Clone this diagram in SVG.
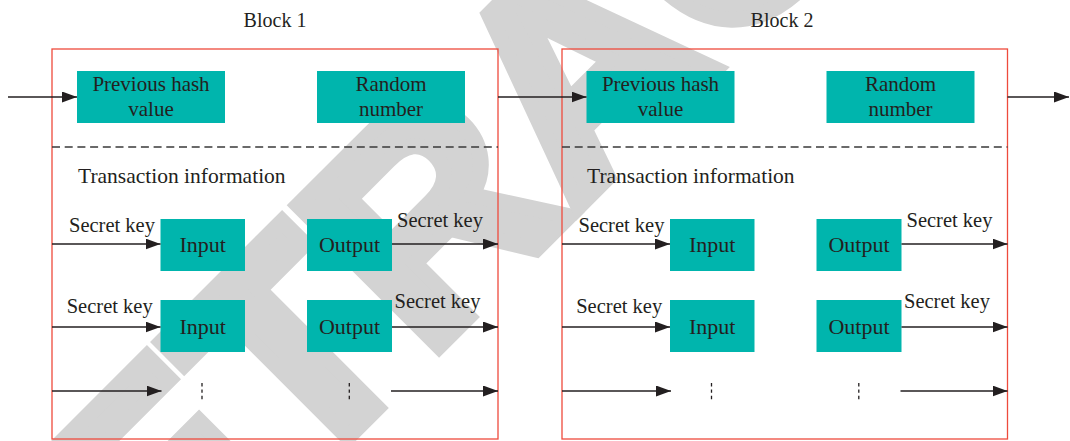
<svg xmlns="http://www.w3.org/2000/svg" width="1070" height="441" viewBox="0 0 1070 441">
  <style>
    .bg { fill: #ffffff; }
    .wm { font-family: "Liberation Sans", Arial, sans-serif; font-weight: bold; font-size: 290px; fill: #d3d3d3; stroke: #d3d3d3; stroke-width: 16; stroke-linejoin: miter; }
    .frame { fill: none; stroke: #ee4b3c; stroke-width: 1.3; }
    .sep { fill: none; stroke: #3a3a3a; stroke-width: 1.3; stroke-dasharray: 8 4.7; }
    .box { fill: #00b5ad; }
    .t { font-family: "Liberation Serif", "Times New Roman", serif; fill: #231f20; }
    .lbl { font-size: 20px; }
    .bx { font-size: 21px; text-anchor: middle; }
    .io { font-size: 22px; text-anchor: middle; }
    .sk { font-size: 20.5px; text-anchor: middle; }
    .ti { font-size: 21.5px; }
    .conn { fill: none; stroke: #231f20; stroke-width: 1.6; marker-end: url(#arrow); }
    .dots { fill: none; stroke: #231f20; stroke-width: 1.3; stroke-dasharray: 3.4 3; }
  </style>
  <defs>
    <marker id="arrow" markerUnits="userSpaceOnUse" markerWidth="15" markerHeight="11" refX="15" refY="5.5" orient="auto">
      <path d="M0,0 L15,5.5 L0,11 z" fill="#231f20"/>
    </marker>
  </defs>

  <rect class="bg" x="0" y="0" width="1070" height="441"/>

  <!-- diagonal stamp behind the diagram -->
  <g id="stamp">
    <text class="wm" x="647.5" y="138" text-anchor="middle" transform="rotate(-45 647.5 138)">RETRACTED</text>
  </g>

  <!-- Block 1 -->
  <g id="block1">
    <rect class="frame" x="52" y="49" width="446" height="390"/>
    <line class="sep" x1="52" y1="147" x2="498" y2="147"/>
    <text class="t lbl" x="275" y="27" text-anchor="middle">Block 1</text>
    <text class="t ti" x="78" y="183">Transaction information</text>
  </g>
  <g id="b1-prev-hash">
    <rect class="box" x="77" y="71" width="148" height="52"/>
    <text class="t bx" x="151" y="91">Previous hash</text>
    <text class="t bx" x="151" y="116">value</text>
  </g>
  <g id="b1-random">
    <rect class="box" x="317" y="71" width="148" height="52"/>
    <text class="t bx" x="391" y="91">Random</text>
    <text class="t bx" x="391" y="116">number</text>
  </g>
  <g id="b1-input1">
    <rect class="box" x="160.5" y="219" width="84.5" height="52"/>
    <text class="t io" x="202.7" y="252">Input</text>
  </g>
  <g id="b1-output1">
    <rect class="box" x="307" y="219" width="85" height="52"/>
    <text class="t io" x="349.5" y="252">Output</text>
  </g>
  <g id="b1-input2">
    <rect class="box" x="160.5" y="300" width="84.5" height="52"/>
    <text class="t io" x="202.7" y="333.5">Input</text>
  </g>
  <g id="b1-output2">
    <rect class="box" x="307" y="300" width="85" height="52"/>
    <text class="t io" x="349.5" y="333.5">Output</text>
  </g>
  <g id="b1-more-in">
    <line class="dots" x1="202" y1="383" x2="202" y2="401"/>
  </g>
  <g id="b1-more-out">
    <line class="dots" x1="349.3" y1="383" x2="349.3" y2="401"/>
  </g>

  <!-- Block 2 -->
  <g id="block2">
    <rect class="frame" x="562" y="49" width="445.5" height="390"/>
    <line class="sep" x1="562" y1="147" x2="1007.5" y2="147"/>
    <text class="t lbl" x="782" y="27" text-anchor="middle">Block 2</text>
    <text class="t ti" x="587" y="183">Transaction information</text>
  </g>
  <g id="b2-prev-hash">
    <rect class="box" x="586.5" y="71" width="148" height="52"/>
    <text class="t bx" x="660.5" y="91">Previous hash</text>
    <text class="t bx" x="660.5" y="116">value</text>
  </g>
  <g id="b2-random">
    <rect class="box" x="826.5" y="71" width="148" height="52"/>
    <text class="t bx" x="900.5" y="91">Random</text>
    <text class="t bx" x="900.5" y="116">number</text>
  </g>
  <g id="b2-input1">
    <rect class="box" x="670" y="219" width="84.5" height="52"/>
    <text class="t io" x="712.2" y="252">Input</text>
  </g>
  <g id="b2-output1">
    <rect class="box" x="816.5" y="219" width="85" height="52"/>
    <text class="t io" x="859" y="252">Output</text>
  </g>
  <g id="b2-input2">
    <rect class="box" x="670" y="300" width="84.5" height="52"/>
    <text class="t io" x="712.2" y="333.5">Input</text>
  </g>
  <g id="b2-output2">
    <rect class="box" x="816.5" y="300" width="85" height="52"/>
    <text class="t io" x="859" y="333.5">Output</text>
  </g>
  <g id="b2-more-in">
    <line class="dots" x1="711.5" y1="383" x2="711.5" y2="401"/>
  </g>
  <g id="b2-more-out">
    <line class="dots" x1="858.8" y1="383" x2="858.8" y2="401"/>
  </g>

  <!-- connectors and their labels -->
  <g id="connectors">
    <path class="conn" d="M8,97 H77"/>
    <path class="conn" d="M498,97 H586.5"/>
    <path class="conn" d="M1007.5,97 H1069"/>

    <path class="conn" d="M52,244 H160.5"/>
    <path class="conn" d="M52,327 H160.5"/>
    <path class="conn" d="M52,391 H161.5"/>
    <path class="conn" d="M392,244 H498"/>
    <path class="conn" d="M392,327 H498"/>
    <path class="conn" d="M391,391 H498"/>

    <path class="conn" d="M562,244 H670"/>
    <path class="conn" d="M562,327 H670"/>
    <path class="conn" d="M562,391 H671"/>
    <path class="conn" d="M901.5,244 H1007.5"/>
    <path class="conn" d="M901.5,327 H1007.5"/>
    <path class="conn" d="M900.5,391 H1007.5"/>

    <text class="t sk" x="112" y="231.5">Secret key</text>
    <text class="t sk" x="109.7" y="313.3">Secret key</text>
    <text class="t sk" x="440" y="226.7">Secret key</text>
    <text class="t sk" x="437.5" y="308.3">Secret key</text>

    <text class="t sk" x="621.5" y="231.5">Secret key</text>
    <text class="t sk" x="619.2" y="313.3">Secret key</text>
    <text class="t sk" x="949.5" y="226.7">Secret key</text>
    <text class="t sk" x="947" y="308.3">Secret key</text>
  </g>
</svg>
